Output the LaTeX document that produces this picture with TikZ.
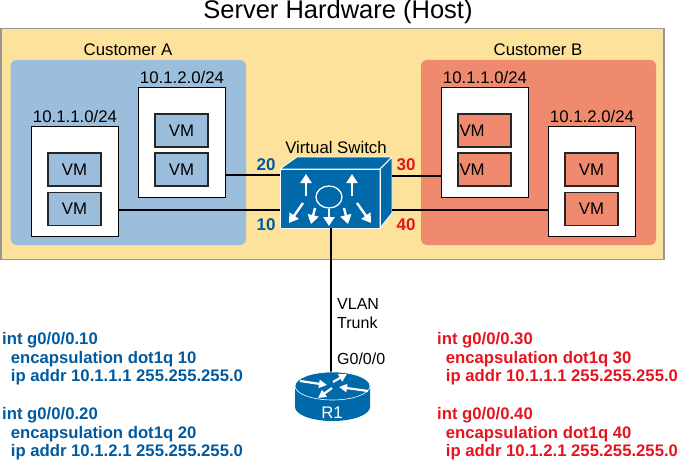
\documentclass[tikz,border=0pt]{standalone}
\usepackage{fontspec}
\setmainfont{Liberation Sans}
\usepackage{xcolor}
\definecolor{hostyellow}{RGB}{253,226,155}
\definecolor{hostedge}{RGB}{150,150,150}
\definecolor{custblue}{RGB}{155,190,220}
\definecolor{custred}{RGB}{240,138,110}
\definecolor{ciscoblue}{RGB}{0,105,170}
\definecolor{darkblue}{RGB}{0,90,160}
\definecolor{cfgred}{RGB}{230,20,30}
\usetikzlibrary{arrows.meta, positioning, calc}
\tikzset{
  subnetbox/.style={draw=black, line width=1.4pt, fill=white, anchor=north west, inner sep=0pt, minimum width=87pt, minimum height=110pt},
  vmbox/.style={draw=black!85, line width=1.3pt, minimum width=53pt, minimum height=33pt, inner sep=0pt, font=\fontsize{16.8}{16.8}\selectfont},
  lbl/.style={font=\fontsize{16.8}{16.8}\selectfont, inner sep=0pt},
  vlanno/.style={font=\fontsize{17}{17}\selectfont\bfseries, inner sep=0pt},
  cfg/.style={font=\fontsize{16.7}{18.7}\selectfont\bfseries, align=left, anchor=north west, inner sep=0pt},
  link/.style={draw=black, line width=1.3pt},
  wharrow/.style={white, line width=2.4pt, -{Triangle[width=11pt,length=9pt]}},
  rtarrow/.style={white, line width=2.2pt, -{Triangle[width=8pt,length=8pt]}}
}
\begin{document}
\begin{tikzpicture}[x=1pt, y=-1pt]
  \useasboundingbox (0,0) rectangle (677,460);
  \node[font=\fontsize{25.5}{25.5}\selectfont, inner sep=0pt] (title) at (338,12) {Server Hardware (Host)};
  % host and customers
  \draw[fill=hostyellow, draw=hostedge, line width=1.5pt] (1,28.5) rectangle (664,259.5);
  \fill[custblue, rounded corners=6pt] (10.5,60) rectangle (246,245);
  \fill[custred, rounded corners=6pt] (421,60) rectangle (656,245);
  \node[lbl] (custa) at (128,50) {Customer A};
  \node[lbl] (custb) at (538,50) {Customer B};
  % subnets
  \node[subnetbox] (a2) at (138,87) {};
  \node[subnetbox] (a1) at (31,126) {};
  \node[subnetbox] (b1) at (441,87) {};
  \node[subnetbox] (b2) at (548,126) {};
  \node[lbl] (a2net) at (182,77) {10.1.2.0/24};
  \node[lbl] (a1net) at (75,116) {10.1.1.0/24};
  \node[lbl] (b1net) at (485,77) {10.1.1.0/24};
  \node[lbl] (b2net) at (592,116) {10.1.2.0/24};
  % VMs
  \node[vmbox, fill=custblue] (a2u) at (181.5,130.5) {VM};
  \node[vmbox, fill=custblue] (a2l) at (181.5,169.5) {VM};
  \node[vmbox, fill=custblue] (a1u) at (74.5,169.5) {VM};
  \node[vmbox, fill=custblue] (a1l) at (74.5,209) {VM};
  \node[vmbox, fill=custred, text width=50pt, align=left] (b1u) at (484.5,130.5) {VM};
  \node[vmbox, fill=custred, text width=50pt, align=left] (b1l) at (484.5,169.5) {VM};
  \node[vmbox, fill=custred] (b2u) at (591.5,169.5) {VM};
  \node[vmbox, fill=custred] (b2l) at (591.5,209) {VM};
  % switch
  \fill[ciscoblue] (280,169) -- (297,157) -- (392,157) -- (392,213) -- (380,228) -- (280,228) -- cycle;
  \draw[white, line width=0.8pt, line join=round] (280,169) -- (297,157) -- (392,157) -- (380,169) -- cycle;
  \draw[white, line width=0.8pt, line join=round] (380,169) -- (392,157) -- (392,213) -- (380,228) -- cycle;
  \draw[white, line width=0.8pt] (280,169) rectangle (380,228);
  \coordinate (vsleftu) at (280,175);
  \coordinate (vsleftl) at (280,210);
  \coordinate (vsrightu) at (392,176);
  \coordinate (vsrightl) at (392,210);
  \coordinate (vsbot) at (331,228);
  \draw[white, line width=1.3pt] (329,197) ellipse (13pt and 11pt);
  \draw[wharrow] (306,196) -- (306,174);
  \draw[wharrow] (352,196) -- (352,174);
  \draw[wharrow] (303,203) -- (289,223);
  \draw[wharrow] (315,208) -- (311,224);
  \draw[wharrow] (329,209) -- (329,226);
  \draw[wharrow] (344,208) -- (348,224);
  \draw[wharrow] (357,203) -- (371,223);
  \node[lbl] (vslabel) at (336,147) {Virtual Switch};
  % links
  \path[link] (a2.east |- vsleftu) -- (vsleftu);
  \path[link] (a1.east |- vsleftl) -- (vsleftl);
  \path[link] (b1.west |- vsrightu) -- (vsrightu);
  \path[link] (b2.west |- vsrightl) -- (vsrightl);
  \node[vlanno, text=darkblue] (v20) at (266,165) {20};
  \node[vlanno, text=darkblue] (v10) at (266,225) {10};
  \node[vlanno, text=cfgred] (v30) at (406,165) {30};
  \node[vlanno, text=cfgred] (v40) at (406,225) {40};
  % router
  \coordinate (rtop) at (331,372);
  \path[link] (vsbot) -- (rtop);
  \fill[ciscoblue] (295,386) -- (295,407) arc[start angle=180, end angle=360, x radius=37.5pt, y radius=14pt] -- (370,386) -- cycle;
  \draw[fill=ciscoblue, draw=white, line width=0.6pt] (332.5,386) ellipse (37.5pt and 14pt);
  \draw[rtarrow] (300,381) -- (327,385);
  \draw[rtarrow] (333,382) -- (347,374);
  \draw[rtarrow] (368,391) -- (339,387);
  \draw[rtarrow] (332,388) -- (318,398);
  \node[lbl, text=white] (r1) at (332,413) {R1};
  \node[lbl, align=left, anchor=north west, font=\fontsize{16}{19}\selectfont] (trunk) at (337,298) {VLAN\\Trunk};
  \node[lbl, anchor=west, font=\fontsize{16}{16}\selectfont] (g0) at (337,359) {G0/0/0};
  % configs
  \node[cfg, text=darkblue] (cfga1) at (2,332) {int g0/0/0.10\\\hspace*{8.7pt}encapsulation dot1q 10\\\hspace*{8.7pt}ip addr 10.1.1.1 255.255.255.0};
  \node[cfg, text=darkblue] (cfga2) at (2,407) {int g0/0/0.20\\\hspace*{8.7pt}encapsulation dot1q 20\\\hspace*{8.7pt}ip addr 10.1.2.1 255.255.255.0};
  \node[cfg, text=cfgred] (cfgb1) at (437,332) {int g0/0/0.30\\\hspace*{8.7pt}encapsulation dot1q 30\\\hspace*{8.7pt}ip addr 10.1.1.1 255.255.255.0};
  \node[cfg, text=cfgred] (cfgb2) at (437,407) {int g0/0/0.40\\\hspace*{8.7pt}encapsulation dot1q 40\\\hspace*{8.7pt}ip addr 10.1.2.1 255.255.255.0};
\end{tikzpicture}
\end{document}
